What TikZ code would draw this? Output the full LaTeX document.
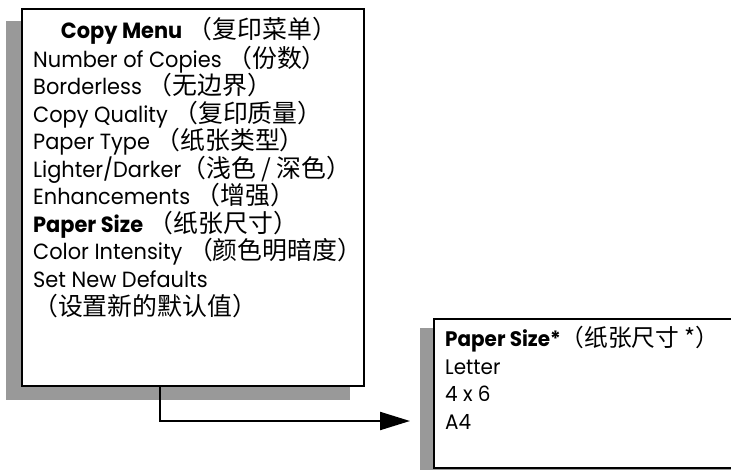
\documentclass[tikz,border=0pt]{standalone}
\usepackage{fontspec}
\setmainfont{Poppins}[FakeStretch=0.95]
\newfontfamily\cjk[Scale=1.13]{Noto Sans CJK SC}
\usetikzlibrary{arrows.meta}
\definecolor{shadowgray}{RGB}{153,153,153}
\tikzset{
  boxframe/.style={draw=black, line width=2.2pt, fill=white, rectangle, inner sep=0pt, anchor=north west},
  shadowbox/.style={fill=shadowgray, draw=none, rectangle, inner sep=0pt, anchor=north west},
  item/.style={anchor=base west, inner sep=0pt, font=\fontsize{22}{24}\selectfont},
  subitem/.style={anchor=base west, inner sep=0pt, font=\fontsize{21}{23}\selectfont},
  connector/.style={draw=black, line width=2.2pt, -{Triangle[length=30pt,width=18pt]}},
}
\begin{document}
\begin{tikzpicture}[x=1pt,y=-1pt]
\clip (0,0) rectangle (731,469);
\fill[white] (0,0) rectangle (731,469);
% menu box
\node[shadowbox, minimum width=344pt, minimum height=379pt] (menushadow) at (6,21) {};
\node[boxframe, minimum width=342pt, minimum height=377pt] (menu) at (21,8) {};
\node[item, anchor=base] (m0) at (199,38.5) {{\bfseries Copy Menu} {\cjk（复印菜单）}};
\node[item] (m1) at (33,67) {Number of Copies {\cjk（份数）}};
\node[item] (m2) at (33,94.5) {Borderless {\cjk（无边界）}};
\node[item] (m3) at (33,122) {Copy Quality {\cjk（复印质量）}};
\node[item] (m4) at (33,149.5) {Paper Type {\cjk（纸张类型）}};
\node[item] (m5) at (33,177) {Lighter/Darker{\cjk（浅色 / 深色）}};
\node[item] (m6) at (33,204.5) {Enhancements {\cjk（增强）}};
\node[item] (m7) at (33,232) {{\bfseries Paper Size} {\cjk（纸张尺寸）}};
\node[item] (m8) at (33,259.5) {Color Intensity {\cjk（颜色明暗度）}};
\node[item] (m9) at (33,287) {Set New Defaults};
\node[item] (m10) at (33,315) {\cjk（设置新的默认值）};
% paper size box
\node[shadowbox, minimum width=340pt, minimum height=160pt] (sizeshadow) at (420,328) {};
\node[boxframe, minimum width=320pt, minimum height=149pt] (size) at (433,318) {};
\node[subitem] (s0) at (445,346) {{\bfseries Paper Size*}{\cjk（纸张尺寸 *）}};
\node[subitem] (s1) at (445,374) {Letter};
\node[subitem] (s2) at (445,401.5) {4 x 6};
\node[subitem] (s3) at (445,429) {A4};
% connector
\coordinate (turn) at (160,421);
\draw[connector, shorten >=23pt] ([xshift=139pt]menu.south west) |- (turn) -- (turn -| size.west);
\end{tikzpicture}
\end{document}
